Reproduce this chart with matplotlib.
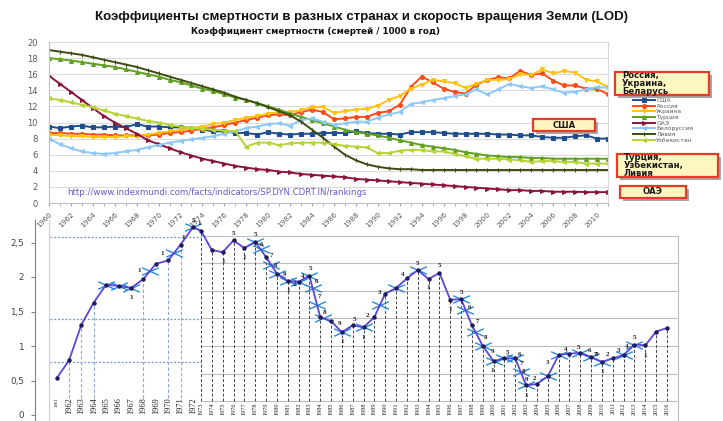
import numpy as np
import matplotlib.pyplot as plt
from matplotlib.patches import Rectangle
from matplotlib.path import Path

# ---- top chart: crude death rate per 1000, 1960-2011 ----
years = np.arange(1960, 2012)
usa = [9.5, 9.3, 9.5, 9.6, 9.4, 9.4, 9.5, 9.4, 9.8, 9.5,
       9.5, 9.4, 9.4, 9.3, 9.1, 8.9, 8.9, 8.7, 8.7, 8.5,
       8.8, 8.6, 8.5, 8.6, 8.6, 8.7, 8.7, 8.7, 8.9, 8.7,
       8.6, 8.6, 8.5, 8.8, 8.8, 8.8, 8.7, 8.6, 8.6, 8.6,
       8.6, 8.5, 8.5, 8.4, 8.4, 8.2, 8.1, 8.1, 8.3, 8.4,
       8.0, 8.0]
russia = [8.7, 8.7, 8.6, 8.6, 8.5, 8.5, 8.4, 8.4, 8.4, 8.4,
          8.5, 8.7, 8.8, 9.0, 9.2, 9.4, 9.7, 10.0, 10.3, 10.6,
          10.9, 11.0, 10.9, 11.3, 11.6, 11.3, 10.4, 10.5, 10.7, 10.7,
          11.2, 11.4, 12.2, 14.4, 15.7, 15.0, 14.2, 13.8, 13.6, 14.7,
          15.3, 15.6, 15.5, 16.4, 15.9, 16.1, 15.2, 14.6, 14.6, 14.2,
          14.2, 13.5]
ukraine = [8.5, 8.4, 8.3, 8.3, 8.2, 8.2, 8.2, 8.3, 8.3, 8.5,
           8.7, 8.9, 9.1, 9.3, 9.5, 9.8, 10.0, 10.3, 10.6, 10.8,
           11.1, 11.3, 11.3, 11.5, 11.9, 11.9, 11.2, 11.4, 11.6, 11.7,
           12.1, 12.8, 13.3, 14.2, 14.7, 15.3, 15.1, 14.9, 14.3, 14.8,
           15.3, 15.3, 15.4, 16.0, 15.9, 16.6, 16.1, 16.4, 16.2, 15.3,
           15.1, 14.4]
turkey = [18.0, 17.85, 17.7, 17.5, 17.3, 17.1, 16.9, 16.6, 16.3, 16.0,
          15.7, 15.3, 15.0, 14.6, 14.2, 13.9, 13.5, 13.1, 12.8, 12.4,
          12.0, 11.6, 11.1, 10.7, 10.3, 9.9, 9.5, 9.1, 8.8, 8.6,
          8.4, 8.1, 7.8, 7.5, 7.2, 7.0, 6.8, 6.6, 6.3, 6.1,
          5.9, 5.8, 5.7, 5.7, 5.6, 5.6, 5.5, 5.5, 5.5, 5.5,
          5.5, 5.5]
uae = [15.8, 14.8, 13.8, 12.8, 11.8, 10.8, 10.0, 9.3, 8.6, 7.8,
       7.3, 6.8, 6.3, 5.9, 5.5, 5.2, 4.9, 4.6, 4.4, 4.2,
       4.1, 3.9, 3.8, 3.6, 3.5, 3.4, 3.3, 3.2, 3.0, 2.9,
       2.8, 2.7, 2.6, 2.5, 2.4, 2.3, 2.2, 2.1, 2.0, 1.9,
       1.8, 1.7, 1.6, 1.6, 1.5, 1.5, 1.4, 1.4, 1.4, 1.35,
       1.35, 1.35]
belarus = [8.0, 7.3, 6.8, 6.4, 6.2, 6.1, 6.2, 6.4, 6.6, 6.9,
           7.2, 7.5, 7.7, 7.9, 8.1, 8.3, 8.6, 8.9, 9.3, 9.5,
           9.8, 9.9, 9.6, 10.3, 10.5, 10.1, 9.7, 9.9, 10.1, 10.1,
           10.6, 11.0, 11.3, 12.3, 12.5, 12.8, 13.0, 13.3, 13.5, 14.1,
           13.5, 14.1, 14.8, 14.5, 14.3, 14.5, 14.1, 13.7, 13.8, 14.1,
           14.4, 14.3]
libya = [19.0, 18.8, 18.6, 18.4, 18.1, 17.8, 17.5, 17.2, 16.9, 16.5,
         16.1, 15.7, 15.3, 14.9, 14.5, 14.1, 13.7, 13.2, 12.8, 12.4,
         11.9, 11.4, 10.9, 10.1, 9.1, 8.1, 7.0, 6.0, 5.3, 4.8,
         4.5, 4.3, 4.2, 4.2, 4.1, 4.1, 4.1, 4.1, 4.1, 4.1,
         4.1, 4.1, 4.1, 4.1, 4.1, 4.1, 4.1, 4.1, 4.1, 4.1,
         4.1, 4.1]
uzbek = [13.0, 12.8, 12.5, 12.2, 11.9, 11.5, 11.1, 10.8, 10.5, 10.2,
         10.0, 9.7, 9.5, 9.3, 9.2, 9.1, 9.0, 8.9, 7.0, 7.5,
         7.5, 7.2, 7.4, 7.5, 7.5, 7.5, 7.3, 7.1, 7.0, 6.9,
         6.2, 6.2, 6.5, 6.6, 6.6, 6.4, 6.4, 6.1, 5.8, 5.5,
         5.5, 5.5, 5.4, 5.3, 5.1, 5.2, 5.2, 5.1, 5.1, 4.9,
         4.9, 4.9]

series = [
    ("США", usa, "#1F4E8F", "s"),
    ("Россия", russia, "#FF4A1A", "o"),
    ("Украина", ukraine, "#FFC20E", "v"),
    ("Турция", turkey, "#5FA01E", "^"),
    ("ОАЭ", uae, "#8B1538", ">"),
    ("Белоруссия", belarus, "#8CC8F8", "<"),
    ("Ливия", libya, "#3D4A12", "|"),
    ("Узбекистан", uzbek, "#B5D334", "<"),
]

# ---- bottom chart: length of day (LOD), ms ----
lod_years = np.arange(1961, 2017)
lod = [0.54, 0.79, 1.31, 1.63, 1.89, 1.87, 1.84, 1.97, 2.19, 2.24,
       2.47, 2.72, 2.67, 2.39, 2.36, 2.53, 2.42, 2.51, 2.29, 2.05,
       1.94, 1.93, 2.02, 1.42, 1.36, 1.20, 1.30, 1.27, 1.42, 1.76,
       1.84, 1.98, 2.10, 1.97, 2.06, 1.67, 1.68, 1.30, 1.00, 0.78,
       0.82, 0.82, 0.43, 0.45, 0.56, 0.87, 0.89, 0.90, 0.84, 0.77,
       0.82, 0.87, 1.02, 1.01, 1.21, 1.26]
blue_drop_years = [1962, 1963, 1964, 1968, 1970, 1971]
blue_levels = [2.58, 1.39, 0.77]
grid_levels = [0.2, 0.6, 1.0, 1.4, 1.8, 2.2, 2.6]
arrow_years = [1965, 1966, 1967, 1968.5, 1970.5, 1972, 1978, 1978.5, 1979.5,
               1980, 1981, 1982, 1983, 1983.3, 1983.7, 1984.3, 1986, 1988,
               1989.5, 1991, 1993, 1997, 1997.4, 1998.3, 1999, 2000, 2001,
               2002, 2002.5, 2003, 2005, 2006, 2008, 2009, 2010, 2012, 2013]
# (year, text, dx, dy) offsets in points
point_notes = [
    (1967, "1", 0, -7), (1968, "1", -3, 6), (1970, "1", -4, 5),
    (1971, "1", 2, 5), (1972, "5", 0, 5), (1973, "1", -1, 5),
    (1975, "1", 0, -7), (1976, "5", 0, 5), (1977, "1", 0, -7),
    (1978, "5", 0, 5), (1979, "6", -3, 9), (1979, "7", 4, 1),
    (1980, "8", -1, 6), (1981, "9", -2, 5), (1981, "1", 0, -7),
    (1982, "2", -3, -2), (1982, "4", 3, 4), (1983, "5", 1, 5),
    (1983, "6", 5, -4), (1984, "7", -1, 15), (1984, "8", 3, 3),
    (1986, "9", -2, 6), (1986, "1", 0, -7), (1987, "5", 1, 4),
    (1988, "1", 0, -7), (1989, "2", -5, 1), (1990, "3", -4, 1),
    (1992, "4", -3, 3), (1993, "5", 0, 5), (1994, "1", 0, -6),
    (1995, "5", 0, 5), (1996, "1", 0, -7), (1997, "5", 0, 5),
    (1998, "6", -2, 13), (1998, "7", 4, 3), (1999, "8", 2, 6),
    (2000, "9", -1, 7), (2000, "1", -1, -7), (2001, "5", 2, 4),
    (2002, "6", 3, 3), (2002, "7", 4, -4), (2003, "8", -2, 10),
    (2003, "9", 0, 4), (2003, "1", 0, -7), (2004, "2", -2, 4),
    (2005, "3", 0, 10), (2007, "4", -3, 3), (2008, "5", -1, 4),
    (2009, "6", -1, 5), (2009, "7", 3, 2), (2010, "8", -4, 5),
    (2011, "2", -4, 3), (2010, "1", 0, -7), (2012, "3", -4, 3),
    (2012, "4", 2, 6), (2013, "5", 0, 5), (2014, "1", 0, -7),
]

W, H = 723, 421
fig = plt.figure(figsize=(W / 100, H / 100), dpi=100)
fig.patch.set_facecolor("white")

fig.text(0.5, 1 - 17 / H, "Коэффициенты смертности в разных странах и скорость вращения Земли (LOD)",
         ha="center", va="center", fontsize=9.5, fontweight="bold",
         family="Liberation Sans", color="#111111")
fig.text(0.437, 1 - 32 / H, "Коэффициент смертности (смертей / 1000 в год)",
         ha="center", va="center", fontsize=6.3, fontweight="bold",
         family="DejaVu Sans", color="#111111")

# ---------- top axes ----------
ax1 = fig.add_axes([49 / W, 1 - 203 / H, 559 / W, 161 / H])
for name, vals, col, mk in series:
    ax1.plot(years, vals, color=col, lw=1.4, marker=mk, ms=2.8,
             mew=0.8, label=name)
ax1.set_xlim(1960, 2011)
ax1.set_ylim(0, 20)
ax1.set_yticks(range(0, 21, 2))
ax1.set_xticks(range(1960, 2011, 2))
ax1.set_xticks(years, minor=True)
ax1.grid(axis="y", color="#D9D9D9", lw=0.7)
ax1.set_axisbelow(True)
ax1.tick_params(axis="y", labelsize=6, colors="#595959", length=0, pad=8)
ax1.tick_params(axis="x", which="both", length=2.5, color="#A0A0A0",
                labelsize=5.3, labelcolor="#595959")
for lab in ax1.get_xticklabels():
    lab.set_rotation(45)
    lab.set_ha("right")
    lab.set_rotation_mode("anchor")
for s in ["left", "bottom"]:
    ax1.spines[s].set_color("#BFBFBF")
ax1.spines["right"].set_color("#D9D9D9")
ax1.spines["top"].set_visible(False)
ax1.text(0.032, 0.035, "http://www.indexmundi.com/facts/indicators/SP.DYN.CDRT.IN/rankings",
         transform=ax1.transAxes, fontsize=6.2, color="#6A5ACD", va="bottom")

fig.legend(loc="upper left", bbox_to_anchor=(633 / W, 1 - 98 / H), frameon=False,
           fontsize=4.3, handlelength=3.6, labelspacing=0.08, handletextpad=0.3,
           borderaxespad=0, borderpad=0, labelcolor="#595959")


def note_box(x0, y0, x1, y1, text, ha="left"):
    fig.add_artist(Rectangle(((x0 + 3) / W, 1 - (y1 + 3) / H), (x1 - x0) / W, (y1 - y0) / H,
                             transform=fig.transFigure, fc="#A6A6A6", ec="none"))
    fig.add_artist(Rectangle((x0 / W, 1 - y1 / H), (x1 - x0) / W, (y1 - y0) / H,
                             transform=fig.transFigure, fc="#FFF6C0", ec="#E8392B", lw=1.6))
    tx = (x0 + 7) / W if ha == "left" else (x0 + x1) / 2 / W
    fig.text(tx, 1 - (y0 + y1) / 2 / H, text, ha=ha, va="center", fontsize=6.1,
             fontweight="bold", family="DejaVu Sans", linespacing=0.88, color="#1A1A1A")


note_box(615, 72, 709, 95, "Россия,\nУкраина,\nБеларусь")
note_box(533, 119, 595, 131, "США", ha="center")
note_box(617, 154, 718, 177, "Турция,\nУзбекистан,\nЛивия")
note_box(620, 186, 686, 198, "ОАЭ", ha="center")

# ---------- bottom axes ----------
anchor_years = [1959.0, 1961, 1962, 1972, 1973, 2016, 2018]
anchor_px = [33.0, 57, 69, 193, 201, 667, 688.7]


def fwd(x):
    return np.interp(x, anchor_years, anchor_px)


def inv(p):
    return np.interp(p, anchor_px, anchor_years)


ax2 = fig.add_axes([35 / W, 0, (678 - 35) / W, 201 / H])
ax2.set_xscale("function", functions=(fwd, inv))
ax2.set_xlim(inv(35), inv(678))
ax2.set_ylim(-6.0 / 69, 195.0 / 69)
ax2.patch.set_alpha(0)

ax2.hlines(grid_levels, 1973, inv(678), color="#BEBEBE", lw=0.8)
ax2.hlines(blue_levels, inv(50), 1973, color="#6F93CC", lw=0.9, linestyles=(0, (1.5, 1.5)))
ax2.axvline(inv(49), color="#CFCFCF", lw=0.8)
lod_arr = np.array(lod)
right = lod_years >= 1973
ax2.vlines(lod_years[right], 0.2, lod_arr[right], colors="#444444", lw=0.7,
           linestyles=(0, (3, 2)))
ax2.vlines(blue_drop_years, 0.25, np.interp(blue_drop_years, lod_years, lod),
           colors="#8AAAD8", lw=0.8, linestyles=(0, (3, 2)))

xpath = Path([(-1, -0.45), (1, 0.45), (-1, 0.45), (1, -0.45)],
             [Path.MOVETO, Path.LINETO, Path.MOVETO, Path.LINETO])
ax2.plot(arrow_years, np.interp(arrow_years, lod_years, lod), ls="none",
         marker=xpath, ms=12, mec="#2A8AD8", mew=1.0, zorder=3)
ax2.plot(lod_years, lod, color="#5B45E0", lw=1.3, marker="o", ms=2.2,
         mfc="#1E1E5A", mec="#1E1E5A", zorder=4)

for yr, txt, dx, dy in point_notes:
    ax2.annotate(txt, (yr, lod[yr - 1961]), xytext=(dx, dy), textcoords="offset points",
                 ha="center", va="center", fontsize=5, family="Liberation Serif",
                 fontweight="bold", color="#222222", zorder=5)

for yr in lod_years:
    if yr < 1973:
        ax2.text(yr, 0.255, str(yr), rotation=90, ha="center", va="top",
                 fontsize=6 if yr > 1961 else 3.5, family="Liberation Serif", color="#222222")
    else:
        ax2.text(yr, 0.185, str(yr), rotation=90, ha="center", va="top",
                 fontsize=4.4, family="Liberation Serif", color="#222222")

ax2.set_xticks([])
ax2.set_yticks([0, 0.5, 1, 1.5, 2, 2.5])
ax2.set_yticklabels(["0", "0,5", "1", "1,5", "2", "2,5"])
ax2.tick_params(axis="y", labelsize=6.3, labelcolor="#404040", color="#808080",
                length=3, pad=5)
ax2.spines["left"].set_color("#808080")
ax2.spines["right"].set_color("#BBBBBB")
ax2.spines["right"].set_bounds(-0.1, 2.6)
ax2.spines["top"].set_visible(False)
ax2.spines["bottom"].set_visible(False)

fig.savefig("out.png", dpi=100)
